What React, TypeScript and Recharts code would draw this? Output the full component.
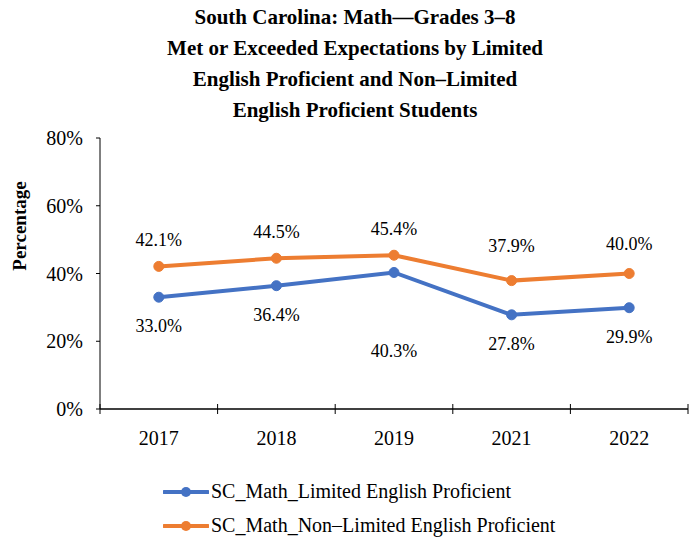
import React from "react";
import {
  LineChart,
  Line,
  XAxis,
  YAxis,
  LabelList,
} from "recharts";

const years = ["2017", "2018", "2019", "2021", "2022"];
const limitedEnglish = [33.0, 36.4, 40.3, 27.8, 29.9];
const nonLimitedEnglish = [42.1, 44.5, 45.4, 37.9, 40.0];
const yTicks = [0, 20, 40, 60, 80];

const BLUE = "#4472C4";
const ORANGE = "#ED7D31";
const FONT = "Liberation Serif, DejaVu Serif, serif";

const data = years.map((year, i) => ({
  x: i + 0.5,
  year,
  lep: limitedEnglish[i],
  nonLep: nonLimitedEnglish[i],
}));

const xTicks = [0, 0.5, 1, 1.5, 2, 2.5, 3, 3.5, 4, 4.5, 5];

// extra label shifts Excel applied to avoid collisions
const blueShift = [0, 0, 50, 0, 0];
const orangeShift = [0, 0, 0, 9, 4];

const XTick = (props: any) => {
  const { x, y, payload } = props;
  const v = payload.value;
  if (Number.isInteger(v)) {
    return <line x1={x} x2={x} y1={y - 5} y2={y + 5} stroke="#000" strokeWidth={1} />;
  }
  return (
    <text x={x} y={y + 36} textAnchor="middle" fontSize={20} style={{ fontFamily: FONT }} fill="#000">
      {years[v - 0.5]}
    </text>
  );
};

const makeLabel = (below: boolean, shifts: number[]) => (props: any) => {
  const { x, y, value, index } = props;
  const ty = below ? y + 35 + shifts[index] : y - 20 - shifts[index];
  return (
    <text x={x} y={ty} textAnchor="middle" fontSize={18} style={{ fontFamily: FONT }} fill="#000">
      {`${value.toFixed(1)}%`}
    </text>
  );
};

const LegendRow = ({ color, text, top }: { color: string; text: string; top: number }) => (
  <div style={{ position: "absolute", left: 163, top, display: "flex", alignItems: "center" }}>
    <svg width={46} height={14}>
      <line x1={1} x2={45} y1={7} y2={7} stroke={color} strokeWidth={4} strokeLinecap="round" />
      <circle cx={23} cy={7} r={5} fill={color} />
    </svg>
    <span style={{ marginLeft: 2, fontSize: 20, fontFamily: FONT, color: "#000", whiteSpace: "nowrap" }}>
      {text}
    </span>
  </div>
);

export default function App() {
  return (
    <div style={{ position: "absolute", left: 0, top: 0, width: 695, height: 537, background: "#fff", fontFamily: FONT }}>
      <div
        style={{
          position: "absolute",
          left: 0,
          top: 2,
          width: 710,
          textAlign: "center",
          fontFamily: FONT,
          fontWeight: "bold",
          fontSize: 21,
          lineHeight: "31px",
          color: "#000",
        }}
      >
        South Carolina: Math—Grades 3–8
        <br />
        Met or Exceeded Expectations by Limited
        <br />
        English Proficient and Non–Limited
        <br />
        English Proficient Students
      </div>
      <div
        style={{
          position: "absolute",
          left: 20,
          top: 226,
          transform: "translate(-50%, -50%) rotate(-90deg)",
          fontFamily: FONT,
          fontWeight: "bold",
          fontSize: 19,
          color: "#000",
          whiteSpace: "nowrap",
        }}
      >
        Percentage
      </div>
      <div style={{ position: "absolute", left: 0, top: 0 }}>
        <LineChart
          width={695}
          height={537}
          data={data}
          margin={{ top: 138, right: 7, left: 0, bottom: 88 }}
          style={{ fontFamily: FONT }}
        >
          <XAxis
            dataKey="x"
            type="number"
            domain={[0, 5]}
            ticks={xTicks}
            interval={0}
            allowDecimals
            height={40}
            tickSize={0}
            tickMargin={0}
            tickLine={false}
            axisLine={{ stroke: "#000", strokeWidth: 1.5 }}
            tick={<XTick />}
          />
          <YAxis
            domain={[0, 80]}
            ticks={yTicks}
            width={100}
            tickFormatter={(v) => `${v}%`}
            tickSize={4}
            tickMargin={13}
            axisLine={{ stroke: "#000", strokeWidth: 1 }}
            tickLine={{ stroke: "#000" }}
            tick={{ fill: "#000", fontSize: 20, style: { fontFamily: FONT } }}
          />
          <Line
            dataKey="nonLep"
            stroke={ORANGE}
            strokeWidth={4}
            dot={{ r: 5, fill: ORANGE, stroke: ORANGE, strokeWidth: 1 }}
            isAnimationActive={false}
          >
            <LabelList dataKey="nonLep" content={makeLabel(false, orangeShift)} />
          </Line>
          <Line
            dataKey="lep"
            stroke={BLUE}
            strokeWidth={4}
            dot={{ r: 5, fill: BLUE, stroke: BLUE, strokeWidth: 1 }}
            isAnimationActive={false}
          >
            <LabelList dataKey="lep" content={makeLabel(true, blueShift)} />
          </Line>
        </LineChart>
      </div>
      <LegendRow color={BLUE} text="SC_Math_Limited English Proficient" top={480} />
      <LegendRow color={ORANGE} text="SC_Math_Non–Limited English Proficient" top={514} />
    </div>
  );
}
